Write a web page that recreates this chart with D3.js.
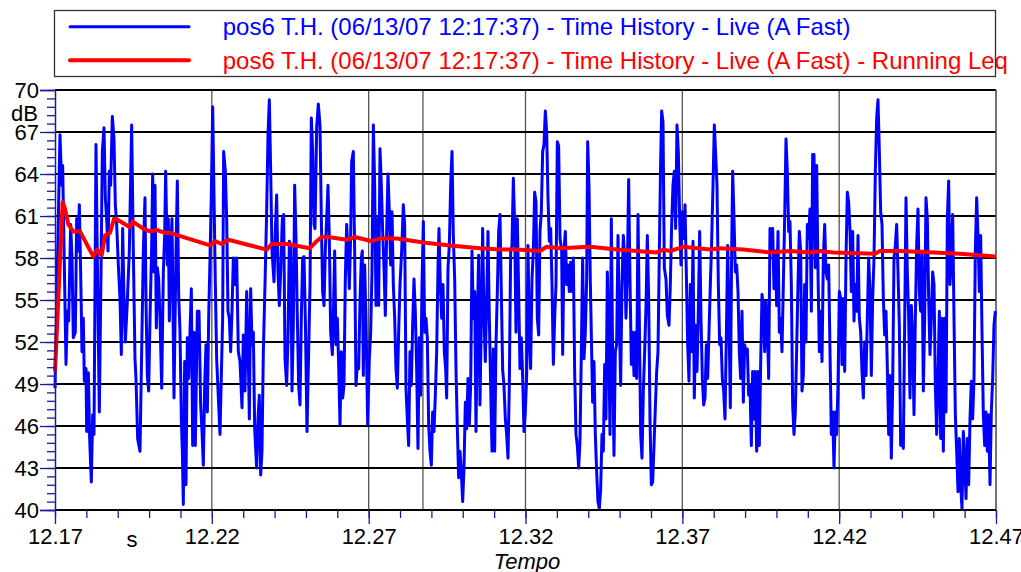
<!DOCTYPE html>
<html><head><meta charset="utf-8">
<script src="https://cdn.jsdelivr.net/npm/d3@7"></script>
<style>html,body{margin:0;padding:0;background:#fff;}svg{display:block;font-family:"Liberation Sans",Arial,sans-serif;}</style>
</head><body>
<svg id="chart" width="1021" height="572"></svg>
<script>
// ---------- data ----------
const legendLabels = [
  "pos6 T.H. (06/13/07 12:17:37) - Time History - Live (A Fast)",
  "pos6 T.H. (06/13/07 12:17:37) - Time History - Live (A Fast) - Running Leq"
];
const seriesColors = ["#0000ff", "#ff0000"];
const xStart = 12.17;             // s
const xEnd = 12.47;               // s
const xTickValues = [12.17, 12.22, 12.27, 12.32, 12.37, 12.42, 12.47];
const xGridValues = [12.22, 12.27, 12.2873, 12.32, 12.37, 12.42];
const yTickValues = [40, 43, 46, 49, 52, 55, 58, 61, 64, 67, 70];
const yGridValues = [43, 46, 49, 52, 55, 58, 61, 64, 67, 70];

// time history (ms after 12.17 s) and level (dB)
const thMs = [0,1.59,2.13,2.44,3.51,3.93,4.36,4.99,5.42,5.84,6.48,6.91,7.33,7.76,8.18,8.61,9.03,9.35,9.88,10.10,10.63,11.05,11.58,12.01,12.43,13.07,13.60,14.13,14.67,15.09,15.62,16.05,16.47,16.90,17.32,17.75,18.28,18.81,19.23,19.66,20.19,20.72,21.15,21.57,22.00,22.42,23.06,23.70,24.44,24.97,25.50,25.82,26.35,27.10,27.63,28.16,28.69,29.01,29.44,29.86,30.29,30.82,31.14,31.56,31.88,32.31,32.62,33.05,33.48,34.01,34.54,34.96,35.28,35.81,36.13,36.45,36.88,37.30,37.94,38.58,39.00,39.43,39.85,40.28,40.60,40.91,41.34,41.76,42.19,42.61,43.04,43.46,43.89,44.31,44.74,45.38,45.91,46.44,46.87,47.29,47.72,48.14,48.57,48.99,49.42,49.84,50.27,50.69,51.12,51.54,52.18,52.60,53.03,53.45,53.77,54.30,54.73,55.15,55.58,56.00,56.43,56.85,57.39,57.92,58.45,58.98,59.62,60.04,60.57,61.11,61.64,61.96,62.38,62.81,63.23,63.66,64.29,64.72,65.14,65.57,65.99,66.42,66.95,67.48,67.91,68.33,68.76,69.18,69.82,70.24,70.67,71.09,71.52,71.94,72.48,72.90,73.33,73.86,74.28,74.71,75.13,75.56,75.98,76.41,76.83,77.26,77.68,78.11,78.53,78.96,79.38,79.81,80.34,
81.30,81.72,82.15,82.57,82.89,83.42,83.95,84.48,84.91,85.33,85.76,86.18,86.61,87.03,87.46,87.88,88.42,88.73,89.16,89.58,90.01,90.43,90.86,91.28,91.71,92.13,92.56,92.98,93.41,93.83,94.26,94.58,95.11,95.53,95.96,96.38,96.81,97.24,97.66,97.98,98.30,98.72,99.15,99.68,100.21,100.64,101.06,101.49,101.91,102.34,102.76,103.19,103.61,104.04,104.46,104.89,105.31,105.74,106.16,106.59,107.01,107.44,107.86,108.29,108.71,109.14,109.56,109.99,110.52,111.05,111.47,111.90,112.32,112.75,113.17,113.60,114.02,114.45,114.87,115.30,115.72,116.15,116.57,117.00,117.43,117.85,118.28,118.70,119.13,119.55,119.98,120.40,120.83,121.25,121.68,122.10,122.42,122.85,123.27,123.70,124.12,124.55,124.87,125.29,125.72,126.14,126.57,126.99,127.42,127.84,128.27,128.69,129.12,129.54,129.97,130.39,130.82,131.24,131.67,132.09,132.52,132.94,133.37,133.79,134.22,134.64,135.07,135.49,135.92,136.34,136.77,137.19,137.62,138.04,138.47,138.89,139.32,139.74,140.17,140.59,141.02,141.44,141.87,142.29,142.72,143.14,143.57,143.99,144.42,144.84,145.27,145.69,146.12,146.54,146.97,147.39,147.82,148.24,148.67,149.09,149.52,149.94,150.37,150.79,151.22,151.64,152.07,152.50,152.92,153.35,153.77,154.20,154.62,155.05,155.47,155.90,156.32,156.75,157.17,157.60,158.03,158.45,158.88,159.30,159.72,160.15,
160.57,161.00,161.53,161.85,162.27,162.70,163.12,163.55,163.97,164.40,164.82,165.25,165.67,166.10,166.52,166.95,167.37,167.80,168.22,168.65,169.07,169.50,169.82,170.24,170.67,171.09,171.41,171.84,172.26,172.69,173.11,173.54,173.96,174.39,174.81,175.24,175.66,176.09,176.51,176.94,177.36,177.79,178.21,178.64,179.06,179.49,179.91,180.34,180.76,181.19,181.61,182.04,182.46,182.89,183.31,183.74,184.16,184.59,185.02,185.44,185.87,186.29,186.72,187.14,187.57,187.99,188.42,188.84,189.27,189.69,190.12,190.54,190.97,191.39,191.82,192.24,192.67,193.09,193.41,193.84,194.26,194.79,195.22,195.75,196.17,196.60,197.02,197.45,197.87,198.30,198.72,199.15,199.57,200.00,200.42,200.85,201.27,201.70,202.12,202.55,202.97,203.40,203.82,204.25,204.68,205.10,205.53,205.95,206.38,206.80,207.23,207.65,208.08,208.50,208.93,209.35,209.78,210.20,210.63,211.05,211.48,211.90,212.33,212.75,213.18,213.60,214.03,214.45,214.88,215.30,215.73,216.05,216.47,216.90,217.32,217.75,218.17,218.60,219.02,219.45,219.87,220.30,220.72,221.15,221.57,222.00,222.42,222.85,223.27,223.70,224.12,224.55,224.97,225.40,225.82,226.25,226.67,227.10,227.52,227.95,228.37,228.80,229.22,229.65,230.07,230.50,230.92,231.35,231.77,232.20,232.62,233.05,233.47,233.90,234.32,234.75,235.17,235.60,236.02,236.45,236.87,237.30,237.73,238.15,238.58,239.00,239.42,239.85,
240.28,240.70,241.13,241.55,241.98,242.40,242.83,243.25,243.68,244.10,244.53,244.95,245.38,245.80,246.23,246.65,247.08,247.50,247.93,248.35,248.78,249.20,249.63,250.05,250.48,250.90,251.33,251.76,252.18,252.61,253.03,253.46,253.88,254.31,254.73,255.16,255.58,256.01,256.43,256.86,257.28,257.71,258.13,258.56,258.98,259.41,259.83,260.26,260.68,261.11,261.53,261.96,262.38,262.81,263.23,263.66,264.08,264.51,264.93,265.36,265.78,266.21,266.63,267.06,267.48,267.91,268.33,268.76,269.18,269.61,270.03,270.46,270.88,271.31,271.73,272.16,272.58,273.01,273.43,273.86,274.28,274.71,275.13,275.56,275.98,276.41,276.83,277.26,277.68,278.11,278.54,278.96,279.39,279.81,280.24,280.66,281.09,281.51,281.94,282.36,282.79,283.21,283.64,284.06,284.49,284.91,285.34,285.76,286.19,286.61,287.04,287.46,287.89,288.31,288.74,289.16,289.59,290.01,290.44,290.86,291.29,291.71,292.14,292.56,292.99,293.41,293.84,294.26,294.69,295.11,295.54,295.96,296.39,296.81,297.24,297.66,298.09,298.51,298.94,299.36,299.79];
const thDb = [48.7,66.8,63.2,64.6,50.4,54.2,53.5,60.4,58,52.3,52.7,60.8,58.5,61.8,57,51.3,53.7,49.2,50.1,45.6,49.8,45.1,42,46.8,45.4,66.1,56.1,47,57,65.6,67.3,62.3,60.8,58.5,64.2,63.2,68.1,66.5,61.8,60.4,57.5,55.1,51.1,60.1,55.1,52,54.9,58.5,67.5,58.5,50.8,49.4,45.1,44.2,51.3,58.5,62.3,54.9,49.6,48.5,53.7,58.9,64,57,63.2,53,57.3,56.5,53.7,48.7,57,59.6,64.2,57.5,60.8,53.5,58.5,60.8,48,58.5,63.5,55.4,52.7,46.5,44.2,40.4,50.6,41.8,52.3,49.4,52.7,55.8,44.6,52.7,44.6,54.2,54.2,47.5,45.6,43.2,48.9,51.8,47,53.7,58,62.5,68.8,62.5,56.1,50.8,47.5,45.4,49.6,53.7,65.6,64.2,60.8,54.2,53.7,51.3,54.2,58,56.1,58,51.3,50.6,47.3,52.5,48.5,55.6,50.6,46.5,55.8,51.8,52.7,45.8,43,46.5,48.2,42.5,44.2,51.3,56.1,61.3,66.8,69.3,64.2,58.5,56.3,59.9,62.5,57,54.6,57,60.8,61.1,50.8,48.9,52.3,59.2,58.9,48.5,53.2,63.2,59.4,53.7,48.9,47.5,53.7,58,58.1,53.7,45.6,
56.1,68,65.6,60.4,60.1,67.3,69,67.5,60.8,55.6,54.6,58.5,60.8,63.2,59.4,52.7,51.1,53.7,58.5,51.8,53.7,50.4,46.1,51.3,48,48.9,56.5,60.4,58.5,55.8,59.6,64.9,65.6,58.5,48.9,50.4,50.1,54.9,58,58.5,49.6,57.5,53.7,46.1,50.8,52.7,57,67.5,63.2,54.6,60.8,54.6,65.8,63.2,59.9,57.3,53.9,59.9,64,61.3,57.5,61.3,56.1,53.7,50.1,48.7,52.7,56.1,58.5,61.8,60.4,48.7,46.5,44.6,51.3,48.9,53.2,56.5,54.2,50.1,44.4,52.3,48.2,56.1,60.6,52.7,53.7,52.3,46.1,44.2,43.2,47,45.6,48.2,51.3,57.3,60.1,56.1,53.7,56.1,51.3,50.1,48,57.3,58.9,63.2,65.6,59.6,56.5,50.1,45.8,42.3,44.2,42.7,40.6,43,47.7,45.8,49.4,46.1,48.9,58.5,53.7,55.6,45.6,53.7,58.2,47.5,53.7,60.1,53.7,50.6,54.9,59.9,53.7,48.9,44.2,51.5,44.2,51.8,55.6,59.9,61.1,55.6,50,48.9,46.5,45.4,43.7,48.9,58.5,58.9,63.7,60.4,52.7,60.8,55.6,50.1,52.3,49.6,45.6,47,49.6,58.9,52.3,50.1,56.5,58.5,62.7,62,53.7,52.5,59.9,61.3,65.6,66.1,68.5,67,62.3,59.2,60.1,56.1,50.4,53.7,56.1,66.3,
66,59.4,58.5,51.1,58.5,59.9,56.1,57.5,55.6,57.7,55.6,58,49.9,45.4,44.6,43,44.9,51.3,58,50.8,52.7,56.5,66.3,63.2,56.3,51.3,47.7,50.6,45.4,42.7,40.6,40.1,41.5,45.4,44.2,50.4,46.5,57,52.7,45.4,60.8,50.8,43.9,51.3,51.8,59.6,53.7,48.9,56.1,59.6,58,53.7,57,63.6,56.5,50.4,52.7,49.6,52.7,49.4,61.1,53.7,45.4,43.7,48.5,51.3,54.6,59.6,55.1,46.5,41.8,42,44.6,47.3,49.9,51.3,58.5,64.9,68.5,67.7,57.3,56.5,53.9,53.2,56.1,60.4,63.2,64.2,60.1,67.5,65.6,60.8,57.5,61.3,59.4,61.8,57,51.8,49.2,56.1,51.3,59.2,48,53.2,49.9,54.2,59.9,53.7,49.4,47.5,48,51.8,49.4,52.7,56.1,59.2,63.2,67.5,65.4,63.2,56.1,51.8,52.3,49.4,48.5,46.5,52.3,58.9,53.7,47.3,58.5,64.2,60.8,57,57.5,55.6,51.3,49.4,54.2,47.7,51.8,51.3,51.5,48.2,48.9,44.6,49.9,46.5,49.9,44.2,49.9,44.6,50.4,55.4,54.6,51.3,54.9,53.2,49.4,60.1,58.5,60.1,55.8,58.5,54.6,59.9,52.7,53.7,51.3,56.1,60.8,66.5,64.2,59.9,60.6,56.1,47.5,45.4,47,51.5,56.1,59.9,58.5,48.5,49.6,56.1,52,60.4,
59.4,61.5,54.2,65.4,65.4,57.3,64.6,57,51.3,54.2,50.6,58,60.4,57,56.5,57.5,51.3,45.4,47,43,47,45.4,48.9,55.6,55.1,50.4,55.1,49.9,58,62.7,62,59.9,55.6,59.9,53.5,56.1,54.2,59.6,53.7,52.7,49.9,48,52,49.6,53.7,58,55.6,49.6,55.1,58,64.2,68,69.3,65.6,61.3,60.4,55.1,52.5,54.2,50.1,45.4,49.6,43.7,48.9,58,58.9,60.4,57,53.2,44.6,45.6,44.4,53.2,62.3,57,53.7,48,54.6,52.3,46.8,53.7,58.9,61.5,55.6,54.2,58.5,48.5,53.7,62.3,60.8,55.1,51.1,53.7,57,56.1,48.9,45.4,49.4,54.2,45.1,53.7,44.2,53.7,47,60.8,63.5,56.1,58,61.1,53.7,46.8,44.2,41.3,45.1,41.8,40.1,45.6,43.4,40.8,45.1,41.8,46.5,49.2,46.5,49.4,58.5,62.3,59.6,55.6,59.6,52.7,46.8,44.6,47,44.2,46.8,41.8,47,49.4,53.2,54.2];

// running Leq (ms after 12.17 s) and level (dB)
const leqMs = [0,2.44,3.19,4.25,5.84,7.97,12.22,13.50,14.88,15.94,17.53,18.81,20.19,23.91,24.76,28.16,30.29,32.41,35.07,36.66,49.42,51.01,53.14,55.26,67.48,69.08,73.86,81.30,83.42,85.02,87.14,92.98,95.64,100.96,103.61,108.93,117.43,125.93,135.49,141.87,147.18,154.62,156.75,161.00,170.56,179.06,191.82,193.94,196.07,200.32,208.82,212.01,219.45,227.95,234.32,240.70,243.89,248.14,261.42,263.02,269.39,280.02,288.52,299.79];
const leqDb = [49.9,62,61.5,60.4,59.9,59.9,58.1,58.6,58.2,59.6,59.8,60.8,60.7,60.2,60.6,60.1,59.9,60,59.8,59.8,58.9,59.2,59,59.3,58.6,59,59,58.7,59.2,59.5,59.5,59.3,59.5,59.2,59.4,59.4,59.1,58.9,58.7,58.6,58.6,58.5,58.8,58.7,58.8,58.6,58.4,58.6,58.5,58.8,58.6,58.7,58.6,58.4,58.5,58.4,58.5,58.4,58.3,58.5,58.5,58.4,58.3,58.1];

// ---------- drawing ----------
const svg = d3.select("#chart");
const m = {left: 55, right: 996, top: 90, bottom: 510};
const x = d3.scaleLinear().domain([xStart, xEnd]).range([m.left, m.right]);
const y = d3.scaleLinear().domain([40, 70]).range([m.bottom, m.top]);
const axisBlue = "#1a1aa0";

// vertical gridlines
svg.append("g").selectAll("line").data(xGridValues).join("line")
  .attr("x1", d => x(d)).attr("x2", d => x(d))
  .attr("y1", m.top).attr("y2", m.bottom)
  .attr("stroke", "#555").attr("stroke-width", 1.3);

// horizontal gridlines
svg.append("g").selectAll("line").data(yGridValues).join("line")
  .attr("x1", m.left).attr("x2", m.right)
  .attr("y1", d => y(d)).attr("y2", d => y(d))
  .attr("stroke", "#000").attr("stroke-width", 2);

// right border
svg.append("line").attr("x1", m.right).attr("x2", m.right)
  .attr("y1", m.top).attr("y2", m.bottom).attr("stroke", "#444").attr("stroke-width", 1.5);

// series
const toT = ms => xStart + ms / 1000;
const thData = thMs.map((v, i) => [toT(v), thDb[i]]);
const leqData = leqMs.map((v, i) => [toT(v), leqDb[i]]);
const line = d3.line().x(d => x(d[0])).y(d => y(d[1]));
svg.append("path").datum(thData).attr("d", line)
  .attr("fill", "none").attr("stroke", seriesColors[0]).attr("stroke-width", 3)
  .attr("stroke-linejoin", "round");
svg.append("path").datum(leqData).attr("d", line)
  .attr("fill", "none").attr("stroke", seriesColors[1]).attr("stroke-width", 4)
  .attr("stroke-linejoin", "round");

// bottom baseline (40 dB)
svg.append("line").attr("x1", m.left).attr("x2", m.right)
  .attr("y1", y(40)).attr("y2", y(40)).attr("stroke", "#000").attr("stroke-width", 2);

// y axis
const yMinor = d3.range(0, 51).map(i => 40 + i * 0.6);
const yAxisMinor = d3.axisLeft(y).tickValues(yMinor).tickSize(8).tickFormat("");
const gyMinor = svg.append("g").attr("transform", `translate(${m.left},0)`).call(yAxisMinor);
gyMinor.select(".domain").remove();
gyMinor.selectAll("line").attr("stroke", axisBlue).attr("stroke-width", 1.3);
const yAxis = d3.axisLeft(y).tickValues(yTickValues).tickSize(15).tickPadding(1).tickFormat(d3.format("d"));
const gy = svg.append("g").attr("transform", `translate(${m.left},0)`).call(yAxis);
gy.select(".domain").attr("stroke", axisBlue).attr("stroke-width", 1.5);
gy.selectAll("line").attr("stroke", axisBlue).attr("stroke-width", 1.3);
gy.selectAll("text").attr("font-size", 22).attr("font-family", "Liberation Sans, Arial, sans-serif").attr("fill", "#000");
svg.append("text").attr("x", 38).attr("y", 113).attr("dy", "0.35em").attr("text-anchor", "end")
  .attr("font-size", 22).attr("fill", "#000").text("dB");

// x axis
const xMinor = d3.range(0, 31).map(i => xStart + i * 0.01);
const xAxisMinor = d3.axisBottom(x).tickValues(xMinor).tickSize(8).tickFormat("");
const gxMinor = svg.append("g").attr("transform", `translate(0,${m.bottom})`).call(xAxisMinor);
gxMinor.select(".domain").remove();
gxMinor.selectAll("line").attr("stroke", axisBlue).attr("stroke-width", 1.3);
const xAxis = d3.axisBottom(x).tickValues(xTickValues).tickSize(14).tickPadding(4).tickFormat(d3.format(".2f"));
const gx = svg.append("g").attr("transform", `translate(0,${m.bottom})`).call(xAxis);
gx.select(".domain").remove();
gx.selectAll("line").attr("stroke", axisBlue).attr("stroke-width", 1.3);
gx.selectAll("text").attr("font-size", 22).attr("font-family", "Liberation Sans, Arial, sans-serif").attr("fill", "#000");
svg.append("text").attr("x", 132).attr("y", 547).attr("text-anchor", "middle")
  .attr("font-size", 22).attr("fill", "#000").text("s");
svg.append("text").attr("x", 527).attr("y", 569).attr("text-anchor", "middle")
  .attr("font-size", 22).attr("font-style", "italic").attr("fill", "#000").text("Tempo");

// legend
const lg = svg.append("g");
lg.append("rect").attr("x", 54.5).attr("y", 10.5).attr("width", 941).attr("height", 66)
  .attr("fill", "#fff").attr("stroke", "#333").attr("stroke-width", 1.3);
const legendY = [26.7, 60.3];
const legendW = [3, 4];
legendLabels.forEach((lab, i) => {
  lg.append("line").attr("x1", 70).attr("x2", 189).attr("y1", legendY[i]).attr("y2", legendY[i])
    .attr("stroke", seriesColors[i]).attr("stroke-width", legendW[i]).attr("stroke-linecap", "round");
  lg.append("text").attr("x", 222.7).attr("y", legendY[i] + 8.5)
    .attr("font-size", 24).attr("fill", seriesColors[i]).text(lab);
});
</script>
</body></html>
